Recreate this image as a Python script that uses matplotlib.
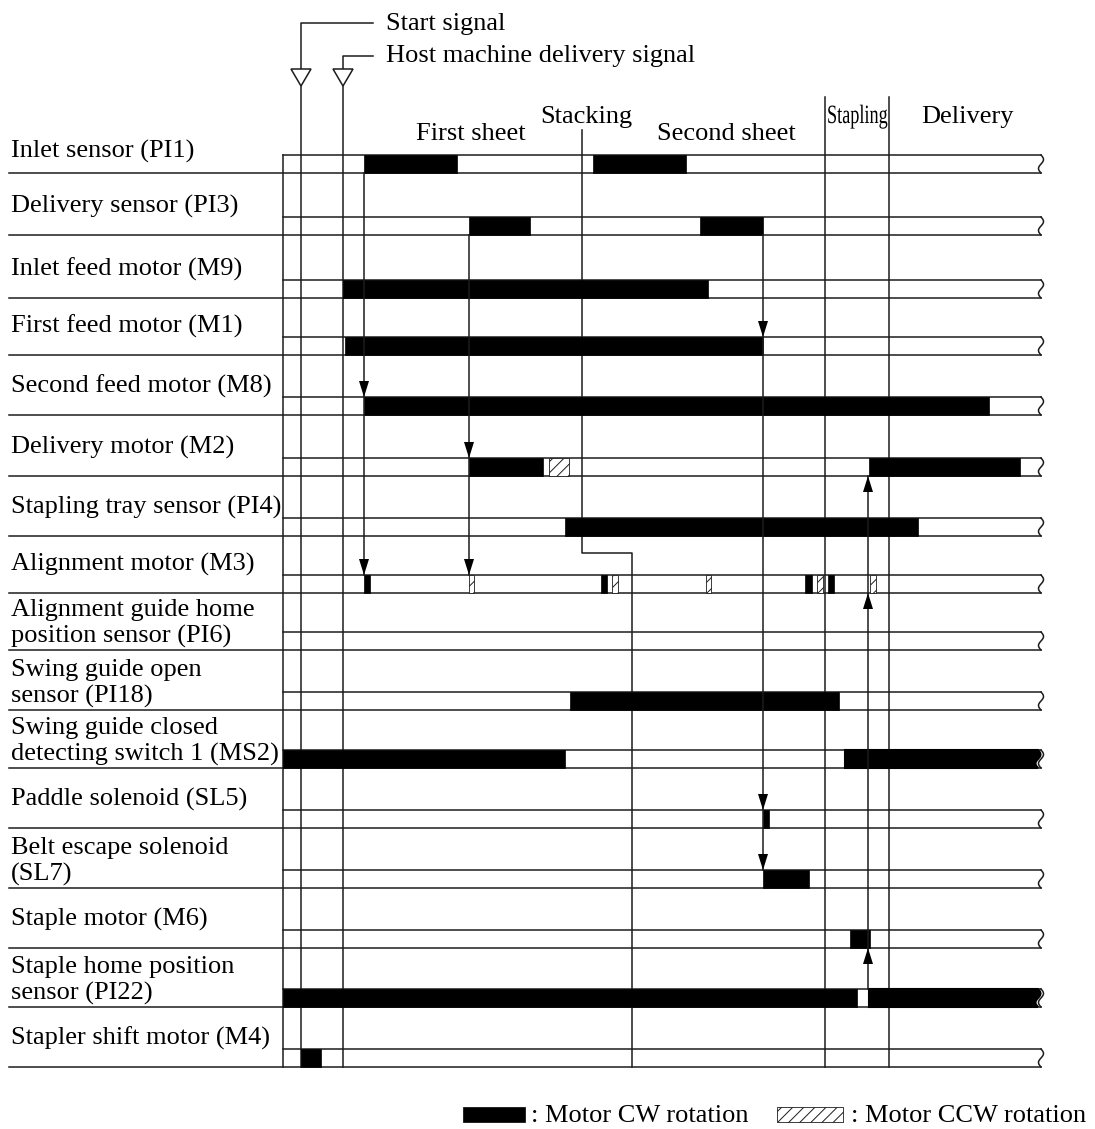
import matplotlib
matplotlib.use('Agg')
import matplotlib.pyplot as plt
import numpy as np
from matplotlib.patches import Rectangle, Polygon, PathPatch
from matplotlib.textpath import TextPath
from matplotlib.font_manager import FontProperties
from matplotlib.transforms import Affine2D

plt.rcParams['font.family'] = ['Liberation Serif', 'DejaVu Serif']
plt.rcParams['hatch.linewidth'] = 0.7

# ---- data: signal names and on-times (time axis in drawing units) ----
labels = [
    "Inlet sensor (PI1)",
    "Delivery sensor (PI3)",
    "Inlet feed motor (M9)",
    "First feed motor (M1)",
    "Second feed motor (M8)",
    "Delivery motor (M2)",
    "Stapling tray sensor (PI4)",
    "Alignment motor (M3)",
    "Alignment guide home\nposition sensor (PI6)",
    "Swing guide open\nsensor (PI18)",
    "Swing guide closed\ndetecting switch 1 (MS2)",
    "Paddle solenoid (SL5)",
    "Belt escape solenoid\n(SL7)",
    "Staple motor (M6)",
    "Staple home position\nsensor (PI22)",
    "Stapler shift motor (M4)",
]

cw_spans = [
    [(364, 457), (593, 686)],
    [(469, 530), (700, 763)],
    [(343, 708)],
    [(345, 763)],
    [(364, 989)],
    [(469, 543), (869, 1020)],
    [(565, 918)],
    [(364, 370), (601, 607), (805, 812), (828, 834)],
    [],
    [(570, 839)],
    [(283, 565), (845, 1042)],
    [(763, 769)],
    [(763, 809)],
    [(850, 870)],
    [(283, 857), (869, 1042)],
    [(301, 321)],
]

ccw_spans = [
    [], [], [], [], [],
    [(549, 569)],
    [],
    [(469, 474), (612, 618), (706, 711), (817, 823), (870, 876)],
    [], [], [], [], [], [], [], [],
]

# (time, source row, target rows)
down_arrows = [(364, 0, [4, 7]), (469, 1, [5, 7]), (763, 1, [3, 11, 12])]
up_arrows = [(868, 14, [13, 7, 5])]

t_start = 301
t_host = 343
t_stack = 582
t_stack_shift = 632
t_staple = [825, 889]

phases = ["First sheet", "Stacking", "Second sheet", "Delivery"]
legend_items = [": Motor CW rotation", ": Motor CCW rotation"]

# ---- layout ----
row_bottom = [173, 235, 298, 355, 415, 476, 536, 593, 650, 710, 768, 828, 888, 948, 1007, 1067]
track_h = 18
t_left = 283
t_end = 1041
sep_x0 = 9
LC = '#1c1c1c'
LW = 1.1
FS = 19

fig = plt.figure(figsize=(10.95, 11.29), dpi=100)
ax = fig.add_axes([0, 0, 1, 1])
ax.set_xlim(0, 1095)
ax.set_ylim(1129, 0)
ax.axis('off')

s = np.linspace(0, 1, 40)
wave = 2.5 * np.sin(2 * np.pi * s)

for i, lab in enumerate(labels):
    yb = row_bottom[i]
    yt = yb - track_h
    ax.plot([sep_x0, t_end], [yb, yb], color=LC, lw=LW, zorder=3)
    ax.plot([t_left, t_end], [yt, yt], color=LC, lw=LW, zorder=3)
    ax.plot(t_end + wave, yt + s * track_h, color=LC, lw=LW, zorder=3)
    for a, b in cw_spans[i]:
        if b >= t_end:
            xs = list(np.r_[a, t_end - 3 + wave, a])
            ys = list(np.r_[yt, yt + s * track_h, yb])
            ax.add_patch(Polygon(list(zip(xs, ys)), closed=True, facecolor='black',
                                 edgecolor='black', lw=1.5, zorder=4))
        else:
            ax.add_patch(Rectangle((a, yt), b - a, track_h, facecolor='black',
                                   edgecolor='black', lw=0.5, zorder=4))
    for a, b in ccw_spans[i]:
        ax.add_patch(Rectangle((a, yt), b - a, track_h, facecolor='white',
                               edgecolor=LC, hatch='///', lw=0.6, zorder=4))
    # label
    lines = lab.split('\n')
    if len(lines) == 1:
        base = [yb - (15 if i == 0 else 22)]
    else:
        base = [yb - 34, yb - 7]
    for ln, yy in zip(lines, base):
        ax.text(11, yy, ln, fontsize=FS, va='baseline', ha='left')

# vertical guides
y_top_row = row_bottom[0] - track_h
y_last = row_bottom[-1]
ax.plot([t_left, t_left], [y_top_row, y_last], color=LC, lw=LW, zorder=2)
for x in (t_start, t_host):
    ax.plot([x, x], [86, y_last], color=LC, lw=LW, zorder=2)
for x in t_staple:
    ax.plot([x, x], [97, y_last], color=LC, lw=LW, zorder=2)
ax.plot([t_stack, t_stack, t_stack_shift, t_stack_shift], [130, 553, 553, y_last],
        color=LC, lw=LW, zorder=2)

# signal triangles and leaders
for x, ylead, txt, base in ((t_start, 23, "Start signal", 30),
                            (t_host, 56, "Host machine delivery signal", 62)):
    ax.add_patch(Polygon([(x - 10, 69), (x + 10, 69), (x, 86)], closed=True,
                         facecolor='white', edgecolor=LC, lw=LW, zorder=3))
    ax.plot([x, x, 373], [69, ylead, ylead], color=LC, lw=LW)
    ax.text(386, base, txt, fontsize=FS, va='baseline', ha='left')

# phase titles
for txt, x, base in zip(phases, [416, 540, 657, 921], [140, 123, 140, 123]):
    ax.text(x, base, txt, fontsize=FS, va='baseline', ha='left')
tp = TextPath((0, 0), "Stapling", size=26.4, prop=FontProperties(family='Liberation Serif'))
tr = Affine2D().scale(0.69, -1).translate(827, 123) + ax.transData
ax.add_patch(PathPatch(tp, transform=tr, facecolor='black', edgecolor='none'))

# arrows
aw, ah = 5, 16
for x, src, targets in down_arrows:
    y0 = row_bottom[src]
    y1 = max(row_bottom[t] for t in targets) - track_h
    ax.plot([x, x], [y0, y1], color=LC, lw=LW, zorder=5)
    for t in targets:
        tip = row_bottom[t] - track_h
        ax.add_patch(Polygon([(x - aw, tip - ah), (x + aw, tip - ah), (x, tip)],
                             closed=True, facecolor='black', edgecolor='none', zorder=6))
for x, src, targets in up_arrows:
    y0 = row_bottom[src] - track_h
    y1 = min(row_bottom[t] for t in targets)
    ax.plot([x, x], [y0, y1], color=LC, lw=LW, zorder=5)
    for t in targets:
        tip = row_bottom[t]
        ax.add_patch(Polygon([(x - aw, tip + ah), (x + aw, tip + ah), (x, tip)],
                             closed=True, facecolor='black', edgecolor='none', zorder=6))

# legend
ax.add_patch(Rectangle((463, 1107), 62, 15, facecolor='black', edgecolor='black', lw=0.5))
ax.text(531, 1122, legend_items[0], fontsize=FS, va='baseline', ha='left')
ax.add_patch(Rectangle((777, 1107), 66, 15, facecolor='white', edgecolor=LC,
                       hatch='///', lw=0.6))
ax.text(851, 1122, legend_items[1], fontsize=FS, va='baseline', ha='left')

fig.savefig('out.png', dpi=100)
